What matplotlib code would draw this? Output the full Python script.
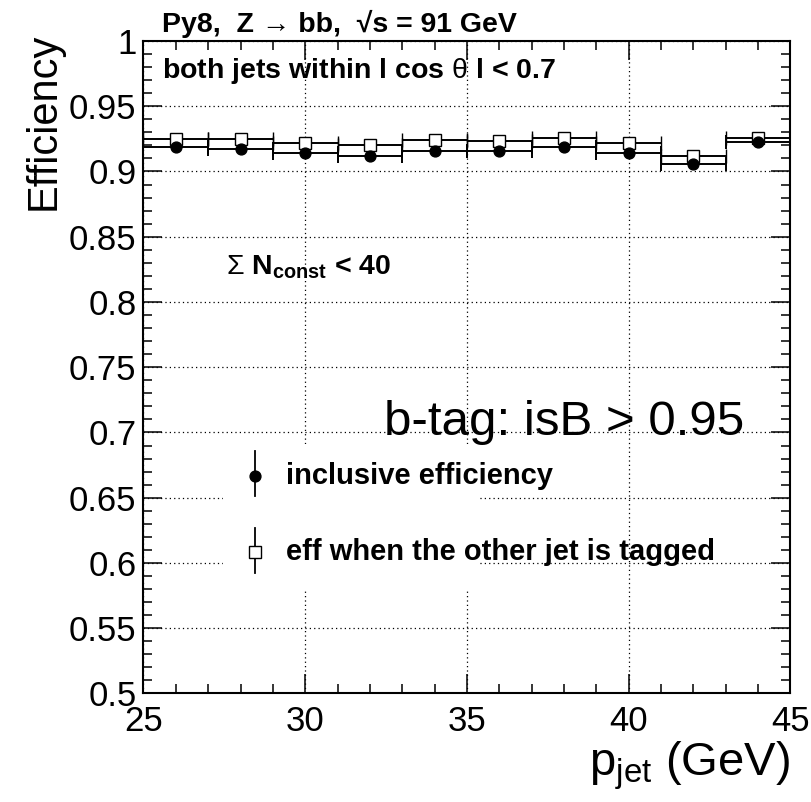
import numpy as np
import matplotlib
matplotlib.use("Agg")
import matplotlib.pyplot as plt
from matplotlib.ticker import MultipleLocator, FuncFormatter
from matplotlib.patches import Rectangle

plt.rcParams['font.family'] = ['Liberation Sans', 'DejaVu Sans']
plt.rcParams['mathtext.fontset'] = 'custom'
plt.rcParams['mathtext.rm'] = 'Liberation Sans'
plt.rcParams['mathtext.bf'] = 'Liberation Sans:bold'
plt.rcParams['mathtext.it'] = 'Liberation Sans:italic'

# bin centres and half widths (GeV)
pt = [26, 28, 30, 32, 34, 36, 38, 40, 42, 44]
pt_err = [1, 1, 1, 1, 1, 1, 1, 1, 1, 1]

# b-tag efficiencies
eff_incl = [0.919, 0.9175, 0.9145, 0.9115, 0.916, 0.916, 0.9188, 0.9145, 0.906, 0.9228]
eff_tag = [0.9246, 0.9247, 0.9221, 0.9203, 0.9244, 0.9234, 0.9255, 0.9219, 0.912, 0.9258]

labels = ["inclusive efficiency", "eff when the other jet is tagged"]

fig = plt.figure(figsize=(8.12, 8.02), dpi=100)
ax = fig.add_axes([0.1767, 0.1353, 0.7968, 0.8136])

# squares first, circles on top
ax.errorbar(pt, eff_tag, xerr=pt_err, fmt='s', color='black', mfc='white', mec='black',
             ms=8.2, mew=1.0, elinewidth=1.4, capsize=5, capthick=1.4, zorder=4)
ax.errorbar(pt, eff_incl, xerr=pt_err, fmt='o', color='black', ms=7.8,
            elinewidth=1.4, capsize=5, capthick=1.4, zorder=5)

ax.set_xlim(25, 45)
ax.set_ylim(0.5, 1.0)

ax.xaxis.set_major_locator(MultipleLocator(5))
ax.xaxis.set_minor_locator(MultipleLocator(1))
ax.yaxis.set_major_locator(MultipleLocator(0.05))
ax.yaxis.set_minor_locator(MultipleLocator(0.01))
ax.yaxis.set_major_formatter(FuncFormatter(lambda v, p: "%g" % round(v, 2)))

ax.tick_params(which='both', direction='in', top=True, right=True, width=1.1)
ax.tick_params(which='major', length=14, labelsize=25)
ax.tick_params(axis='x', which='major', pad=8)
ax.tick_params(axis='y', which='major', pad=5)
ax.tick_params(which='minor', length=6.5)
for s in ax.spines.values():
    s.set_linewidth(1.5)

ax.grid(True, which='major', color='black', linestyle=(0, (1, 2.5)), linewidth=0.9)

# white legend box hides the grid
ax.add_patch(Rectangle((0.123, 0.158), 0.396, 0.225, transform=ax.transAxes,
                       facecolor='white', edgecolor='none', zorder=2.5))

# legend entries (ROOT style: marker with vertical bar)
ax.plot([0.172, 0.172], [0.302, 0.371], transform=ax.transAxes, color='black', lw=1.3, zorder=6)
ax.plot([0.172], [0.3336], 'o', transform=ax.transAxes, color='black', ms=7.8, zorder=7)
ax.plot([0.172, 0.172], [0.185, 0.254], transform=ax.transAxes, color='black', lw=1.3, zorder=6)
ax.plot([0.172], [0.2175], 's', transform=ax.transAxes, mfc='white', mec='black', ms=8.2, mew=1.0, zorder=7)
ax.text(0.221, 0.3336, labels[0], transform=ax.transAxes, fontsize=21, fontweight='bold',
        va='center', ha='left', zorder=8)
ax.text(0.221, 0.2175, labels[1], transform=ax.transAxes, fontsize=21, fontweight='bold',
        va='center', ha='left', zorder=8)

ax.text(0.372, 0.3965, "b-tag: isB > 0.95", transform=ax.transAxes, fontsize=35.5,
        va='baseline', ha='left', zorder=8)
ax.text(0.127, 0.642, r"$\Sigma$ N$_{\mathbf{const}}$ < 40",
        transform=ax.transAxes, fontsize=20.5, fontweight='bold', va='baseline', ha='left', zorder=8)
ax.text(0.028, 0.943, r"both jets within l cos $\mathrm{\theta}$ l < 0.7", transform=ax.transAxes,
        fontsize=20.5, fontweight='bold', va='baseline', ha='left', zorder=8)

fig.text(161.7 / 812, 1 - 31.7 / 802, "Py8,  Z \u2192 bb,  \u221as = 91 GeV",
         fontsize=20.5, fontweight='bold', va='baseline', ha='left')

ax.text(1.0, -0.125, r"p$_{\mathrm{jet}}$ (GeV)", transform=ax.transAxes, fontsize=34,
        va='baseline', ha='right')
fig.text(44 / 812, 1 - 33 / 802, "Efficiency", fontsize=30, rotation=90, va='top', ha='center')

fig.savefig("out.png", dpi=100)
